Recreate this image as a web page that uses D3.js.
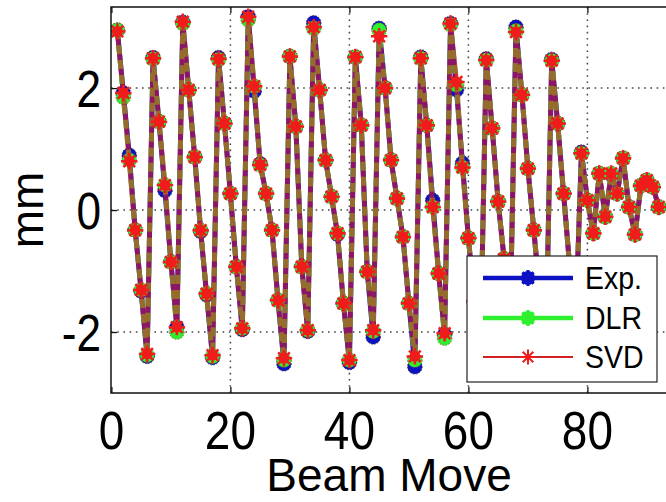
<!DOCTYPE html>
<html>
<head>
<meta charset="utf-8">
<script src="https://cdn.jsdelivr.net/npm/d3@7/dist/d3.min.js"></script>
<style>
  html, body { margin: 0; padding: 0; background: #fff; }
  svg { display: block; font-family: "Liberation Sans", Arial, sans-serif; }
</style>
</head>
<body>
<svg id="chart" width="666" height="502"></svg>
<script>
// ---- data ----
const beamMove = [1,2,3,4,5,6,7,8,9,10,11,12,13,14,15,16,17,18,19,20,21,22,23,24,25,26,27,28,29,30,
  31,32,33,34,35,36,37,38,39,40,41,42,43,44,45,46,47,48,49,50,51,52,53,54,55,56,57,58,59,60,
  61,62,63,64,65,66,67,68,69,70,71,72,73,74,75,76,77,78,79,80,81,82,83,84,85,86,87,88,89,90,91,92];
const expValues = [2.95,1.92,0.90,-0.33,-1.33,-2.40,2.50,1.45,0.32,-0.85,-1.92,3.08,1.97,0.87,-0.35,-1.39,-2.42,2.50,1.42,0.27,-0.93,-1.96,3.17,1.95,0.76,0.27,-0.33,-1.48,-2.52,2.52,1.37,-0.93,-1.99,3.07,1.97,0.82,0.22,-0.40,-1.53,-2.50,2.51,1.39,-1.01,-2.08,2.98,2.00,0.82,0.19,-0.44,-1.53,-2.57,2.51,1.39,0.16,-1.04,-2.04,3.06,1.97,0.77,-0.46,-1.50,-2.40,2.48,1.34,0.14,-0.80,-1.90,3.00,1.89,0.68,-0.33,-1.40,-2.40,2.47,1.42,0.27,-0.90,-1.90,0.95,0.16,-0.38,0.60,-0.11,0.58,0.27,0.85,0.05,-0.40,0.40,0.49,0.38,0.05];
const dlrValues = [2.95,1.85,0.82,-0.33,-1.31,-2.38,2.48,1.45,0.41,-0.85,-2.00,3.06,1.97,0.87,-0.33,-1.37,-2.40,2.47,1.42,0.27,-0.93,-1.94,3.12,2.03,0.74,0.27,-0.33,-1.48,-2.46,2.52,1.37,-0.93,-1.97,2.98,1.97,0.82,0.22,-0.38,-1.53,-2.46,2.51,1.39,-1.01,-1.99,2.95,2.00,0.82,0.19,-0.44,-1.53,-2.46,2.49,1.39,0.05,-1.04,-2.10,3.04,2.05,0.70,-0.46,-1.50,-2.40,2.46,1.34,0.14,-0.80,-1.90,2.94,1.89,0.68,-0.33,-1.40,-2.40,2.45,1.42,0.27,-0.90,-1.90,0.93,0.16,-0.38,0.60,-0.11,0.60,0.27,0.85,0.05,-0.40,0.40,0.49,0.38,0.05];
const svdValues = [2.93,1.92,0.80,-0.33,-1.31,-2.36,2.49,1.45,0.41,-0.85,-1.92,3.09,1.97,0.87,-0.33,-1.37,-2.38,2.48,1.42,0.27,-0.93,-1.94,3.17,2.03,0.74,0.27,-0.33,-1.48,-2.43,2.52,1.37,-0.93,-1.97,3.00,1.97,0.82,0.22,-0.38,-1.53,-2.46,2.51,1.39,-1.01,-1.97,2.85,2.00,0.82,0.19,-0.44,-1.53,-2.40,2.49,1.39,0.05,-1.04,-2.02,3.06,2.10,0.70,-0.46,-1.50,-2.40,2.46,1.34,0.14,-0.80,-1.90,2.92,1.89,0.68,-0.33,-1.40,-2.40,2.45,1.42,0.27,-0.90,-1.90,0.93,0.16,-0.38,0.60,-0.11,0.60,0.27,0.85,0.05,-0.40,0.40,0.49,0.38,0.05];
const xTicks = [0,20,40,60,80,100];
const xTickLabels = ["0","20","40","60","80",""];
const yTicks = [-2,0,2];
const yTickLabels = ["-2","0","2"];
const seriesNames = ["Exp.","DLR","SVD"];
const xLabel = "Beam Move";
const yLabel = "mm";

// ---- layout ----
const svg = d3.select("#chart");
const pLeft = 111, pTop = 7, pBottom = 393;
const x = d3.scaleLinear().domain([0,100]).range([111.4, 706.4]);
const y = d3.scaleLinear().domain([-3, 3.33]).range([pBottom, pTop]);
const pRight = x(100);

const colors = { exp: "#0c12c4", dlr: "#2ef02e", svd: "#e01818" };

// grid
const grid = svg.append("g");
grid.selectAll("line.gx").data(xTicks.filter(t => t > 0 && t < 100)).join("line")
  .attr("x1", d => x(d)).attr("x2", d => x(d)).attr("y1", pTop).attr("y2", pBottom)
  .attr("stroke", "#444").attr("stroke-width", 1.5).attr("stroke-dasharray", "1.6,4.6");
grid.selectAll("line.gy").data(yTicks).join("line")
  .attr("x1", pLeft).attr("x2", pRight).attr("y1", d => y(d)).attr("y2", d => y(d))
  .attr("stroke", "#444").attr("stroke-width", 1.5).attr("stroke-dasharray", "1.6,4.6");

// clip
svg.append("clipPath").attr("id", "clip").append("rect")
  .attr("x", pLeft).attr("y", pTop).attr("width", pRight - pLeft).attr("height", pBottom - pTop);
const plot = svg.append("g").attr("clip-path", "url(#clip)");

const dataOf = vals => beamMove.map((b, i) => [b, vals[i]]);
const line = d3.line().x(d => x(d[0])).y(d => y(d[1]));

function asteriskPath(r) {
  let p = "";
  for (let k = 0; k < 4; k++) {
    const a = k * Math.PI / 4;
    const dx = r * Math.cos(a), dy = r * Math.sin(a);
    p += `M${-dx},${-dy}L${dx},${dy}`;
  }
  return p;
}

// Exp series
plot.append("path").datum(dataOf(expValues)).attr("d", line)
  .attr("fill", "none").attr("stroke", colors.exp).attr("stroke-width", 5);
plot.append("g").selectAll("circle").data(dataOf(expValues)).join("circle")
  .attr("cx", d => x(d[0])).attr("cy", d => y(d[1])).attr("r", 7.3)
  .attr("fill", colors.exp).attr("stroke", "#223").attr("stroke-width", 0.9).attr("stroke-dasharray", "1.5,1.5");

// DLR series
plot.append("path").datum(dataOf(dlrValues)).attr("d", line)
  .attr("fill", "none").attr("stroke", colors.dlr).attr("stroke-width", 5).attr("stroke-dasharray", "9,6");
plot.append("g").selectAll("circle").data(dataOf(dlrValues)).join("circle")
  .attr("cx", d => x(d[0])).attr("cy", d => y(d[1])).attr("r", 7.3)
  .attr("fill", colors.dlr).attr("stroke", "#6a6a20").attr("stroke-width", 0.9).attr("stroke-dasharray", "1.5,1.5");

// SVD series
plot.append("path").datum(dataOf(svdValues)).attr("d", line)
  .attr("fill", "none").attr("stroke", "#d81a2a").attr("stroke-width", 5).attr("stroke-opacity", 0.62);
const svdMarks = plot.append("g").selectAll("g").data(dataOf(svdValues)).join("g")
  .attr("transform", d => `translate(${x(d[0])},${y(d[1])})`);
svdMarks.append("circle").attr("r", 5.4).attr("fill", "#f01c1c");
svdMarks.append("path").attr("d", asteriskPath(8.2))
  .attr("stroke", "#f01c1c").attr("stroke-width", 2.5).attr("fill", "none");

// frame
svg.append("rect").attr("x", pLeft).attr("y", pTop).attr("width", pRight - pLeft).attr("height", pBottom - pTop)
  .attr("fill", "none").attr("stroke", "#111").attr("stroke-width", 1.5);

// axes ticks (inward) via d3 axes
const xAxisB = d3.axisBottom(x).tickValues(xTicks).tickSize(-6).tickFormat("");
svg.append("g").attr("transform", `translate(0,${pBottom})`).call(xAxisB)
  .call(g => g.select(".domain").remove())
  .selectAll("line").attr("stroke", "#111").attr("stroke-width", 1.3);
const xAxisT = d3.axisTop(x).tickValues(xTicks).tickSize(-6).tickFormat("");
svg.append("g").attr("transform", `translate(0,${pTop})`).call(xAxisT)
  .call(g => g.select(".domain").remove())
  .selectAll("line").attr("stroke", "#111").attr("stroke-width", 1.3);
const yAxisL = d3.axisLeft(y).tickValues(yTicks).tickSize(-6).tickFormat("");
svg.append("g").attr("transform", `translate(${pLeft},0)`).call(yAxisL)
  .call(g => g.select(".domain").remove())
  .selectAll("line").attr("stroke", "#111").attr("stroke-width", 1.3);

// tick labels (slightly condensed, tall glyphs)
svg.append("g").selectAll("text").data(xTicks.map((t, i) => [t, xTickLabels[i]]).filter(d => d[1] !== "")).join("text")
  .attr("transform", d => `translate(${x(d[0])},449) scale(0.85,1)`)
  .attr("text-anchor", "middle").attr("font-size", 54).attr("fill", "#000")
  .text(d => d[1]);
svg.append("g").selectAll("text").data(yTicks.map((t, i) => [t, yTickLabels[i]])).join("text")
  .attr("transform", d => `translate(101,${y(d[0]) + 19}) scale(0.85,1)`)
  .attr("text-anchor", "end").attr("font-size", 52).attr("fill", "#000")
  .text(d => d[1]);

// axis labels
svg.append("text").attr("x", 389).attr("y", 491).attr("text-anchor", "middle")
  .attr("font-size", 46).attr("fill", "#000").text(xLabel);
svg.append("text").attr("transform", "translate(43,210) rotate(-90)").attr("text-anchor", "middle")
  .attr("font-size", 46).attr("fill", "#000").text(yLabel);

// legend
const lg = svg.append("g");
lg.append("rect").attr("x", 467).attr("y", 256).attr("width", 190).attr("height", 126)
  .attr("fill", "#fff").attr("stroke", "#222").attr("stroke-width", 1.2);
const legendRows = [
  { name: seriesNames[0], color: colors.exp, w: 4.5, type: "blob", yy: 278 },
  { name: seriesNames[1], color: colors.dlr, w: 4.5, type: "blob", yy: 318 },
  { name: seriesNames[2], color: "#d02020", w: 2, type: "star", yy: 357 }
];
legendRows.forEach(r => {
  lg.append("line").attr("x1", 483).attr("x2", 573).attr("y1", r.yy).attr("y2", r.yy)
    .attr("stroke", r.color).attr("stroke-width", r.w);
  if (r.type === "blob") {
    lg.append("circle").attr("cx", 528).attr("cy", r.yy).attr("r", 7).attr("fill", r.color);
    lg.append("path").attr("transform", `translate(528,${r.yy})`).attr("d", asteriskPath(8))
      .attr("stroke", r.color).attr("stroke-width", 3);
  } else {
    lg.append("path").attr("transform", `translate(528,${r.yy})`).attr("d", asteriskPath(7.5))
      .attr("stroke", "#f01c1c").attr("stroke-width", 2);
  }
  lg.append("text").attr("transform", `translate(585,${r.yy + 11}) scale(0.95,1.05)`)
    .attr("font-size", 30).attr("fill", "#000").text(r.name);
});
</script>
</body>
</html>
